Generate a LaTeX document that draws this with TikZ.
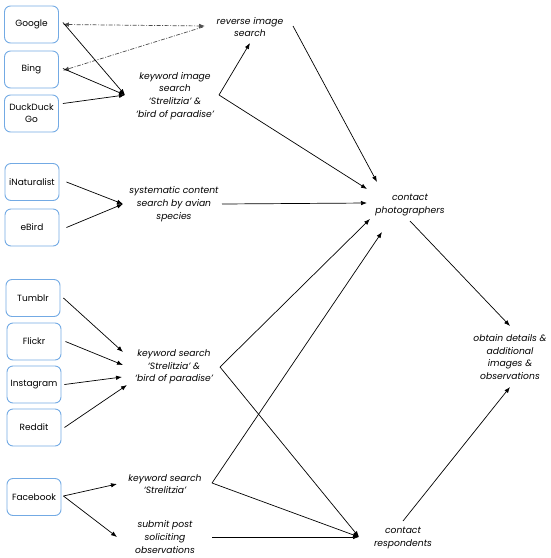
\documentclass[tikz,border=0pt]{standalone}
\usepackage{fontspec}
\setmainfont{Poppins}
\usetikzlibrary{arrows.meta}
\definecolor{boxblue}{RGB}{115,170,228}
\begin{document}
\begin{tikzpicture}[x=1pt,y=-1pt,
  box/.style={draw=boxblue,line width=0.9pt,rounded corners=6pt,minimum width=54pt,minimum height=37pt,inner sep=1pt,align=center,font=\fontsize{9}{12}\selectfont},
  lbl/.style={align=center,inner sep=0pt,font=\fontsize{9.2}{12.7}\selectfont\itshape},
  conn/.style={line width=0.7pt,-{Latex[length=6pt,width=4.5pt]}},
  dd/.style={line width=0.7pt,gray!60!black,dash pattern=on 4pt off 1.5pt on 1pt off 1.5pt}]
\useasboundingbox (0,0) rectangle (550,558);
% boxes
\node[box] (google) at (31.5,24.5) {Google};
\node[box] (bing) at (31.5,69.5) {Bing};
\node[box] (ddg) at (31.5,113.5) {DuckDuck\\Go};
\node[box] (inat) at (32,182) {iNaturalist};
\node[box] (ebird) at (32,227.5) {eBird};
\node[box] (tumblr) at (33,298) {Tumblr};
\node[box] (flickr) at (34,341.5) {Flickr};
\node[box] (insta) at (34,384.5) {Instagram};
\node[box] (reddit) at (34,427.5) {Reddit};
\node[box] (fb) at (34,497) {Facebook};
% labels
\node[lbl] (rev) at (250,27) {reverse image\\search};
\node[lbl] (kis) at (175,96) {keyword image\\search\\‘Strelitzia’ \&\\‘bird of paradise’};
\node[lbl] (scs) at (174,204) {systematic content\\search by avian\\species};
\node[lbl] (cph) at (410,205) {contact\\photographers};
\node[lbl] (ks) at (174,367) {keyword search\\‘Strelitzia’ \&\\‘bird of paradise’};
\node[lbl] (ksf) at (165,484) {keyword search\\‘Strelitzia’};
\node[lbl] (sub) at (165,537) {submit post\\soliciting\\observations};
\node[lbl] (obt) at (510,357) {obtain details \&\\additional\\images \&\\observations};
\node[lbl] (cres) at (403,538) {contact\\respondents};
% anchor points
\coordinate (revL) at (205,26);
\coordinate (revL2) at (203,27);
\coordinate (revB) at (250,43);
\coordinate (revR) at (293,26);
\coordinate (kisL) at (125,95);
\coordinate (kisR) at (219,95);
\coordinate (scsL) at (123,204);
\coordinate (scsR) at (222,204);
\coordinate (c1) at (377,182);
\coordinate (c2) at (367,189);
\coordinate (c3) at (367,203);
\coordinate (c4) at (370,219);
\coordinate (c5) at (382,232);
\coordinate (cphB) at (410,221);
\coordinate (obtT) at (510,326);
\coordinate (obtB) at (510,387);
\coordinate (cresT) at (403,521);
\coordinate (cresL) at (359,537);
\coordinate (ksT) at (123,352);
\coordinate (ksF) at (123,365);
\coordinate (ksI) at (122,377);
\coordinate (ksR2) at (127,385);
\coordinate (ksR) at (220,367);
\coordinate (ksfL) at (117,484);
\coordinate (ksfR) at (212,483);
\coordinate (subL) at (117,537);
\coordinate (subR) at (212,537);
% dash-dot connectors
\draw[dd,{Latex[length=6pt,width=4.5pt]}-{Latex[length=6pt,width=4.5pt]}] ([xshift=4pt]google.east) -- (revL);
\draw[dd,-{Latex[length=6pt,width=4.5pt]}] (revL2) -- ([xshift=4pt,yshift=-1pt]bing.east);
% search engines
\draw[conn] ([xshift=4pt,yshift=2pt]google.east) -- (kisL);
\draw[conn] ([xshift=4pt,yshift=1pt]bing.east) -- (kisL);
\draw[conn] ([xshift=4pt,yshift=10pt]ddg.east) -- (kisL);
\draw[conn] (kisR) -- (revB);
\draw[conn] (kisR) -- (c2);
\draw[conn] (revR) -- (c1);
% systematic
\draw[conn] ([xshift=7pt]inat.east) -- (scsL);
\draw[conn] ([xshift=7pt]ebird.east) -- (scsL);
\draw[conn] (scsR) -- (c3);
% social
\draw[conn] ([xshift=3pt]tumblr.east) -- (ksT);
\draw[conn] ([xshift=4pt]flickr.east) -- (ksF);
\draw[conn] ([xshift=3pt]insta.east) -- (ksI);
\draw[conn] ([xshift=3pt]reddit.east) -- (ksR2);
\draw[conn] (ksR) -- (c4);
\draw[conn] (ksR) -- (cresL);
% facebook
\draw[conn] ([xshift=2pt,yshift=1pt]fb.east) -- (ksfL);
\draw[conn] ([xshift=2pt,yshift=1pt]fb.east) -- (subL);
\draw[conn] (ksfR) -- (c5);
\draw[conn] (ksfR) -- (cresL);
\draw[conn] (subR) -- (cresL);
% outcomes
\draw[conn] (cphB) -- (obtT);
\draw[conn] (cresT) -- (obtB);
\end{tikzpicture}
\end{document}
